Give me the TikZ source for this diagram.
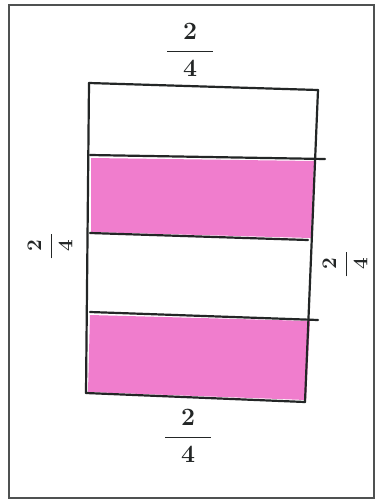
\documentclass[tikz,border=0pt]{standalone}
\usepackage{amsmath}
\definecolor{crayon}{RGB}{240,125,205}
\definecolor{ink}{RGB}{35,38,38}
\begin{document}
\begin{tikzpicture}[x=1pt,y=-1pt,
  pen/.style={draw=ink,line width=2.2pt,line cap=round,line join=round},
  frac/.style={text=ink,font=\fontsize{25}{28}\selectfont\boldmath},
  sidefrac/.style={frac,rotate=90,inner sep=0pt,font=\fontsize{22}{25}\selectfont\boldmath}]
\useasboundingbox (0,0) rectangle (380,504);
\fill[white] (0,0) rectangle (380,504);
% outer frame
\draw[draw=ink!80,line width=1.3pt] (9,5) rectangle (374,498);
% corners of lines
\coordinate (a1) at (89,83);  \coordinate (b1) at (318,90);
\coordinate (a2) at (90,155); \coordinate (b2) at (325,159);
\coordinate (a3) at (90,233); \coordinate (b3) at (308,240);
\coordinate (a4) at (90,312); \coordinate (b4) at (318,320);
\coordinate (a5) at (86,393); \coordinate (b5) at (305,402);
% pink bands
\fill[crayon] (91,158) -- (314,161) -- (311,238) -- (91,232) -- cycle;
\fill[crayon] (90,315) -- (310,321) -- (306,400) -- (88,392) -- cycle;
% lines
\draw[pen] (a1) -- (b1);
\draw[pen] (a2) -- (b2);
\draw[pen] (a3) -- (b3);
\draw[pen] (a4) -- (b4);
\draw[pen] (a5) -- (b5);
\draw[pen] (a1) -- (a5);
\draw[pen] (b1) -- (b5);
% labels
\node[frac] (top) at (190,50) {$\dfrac{\;\;2\;\;}{4}$};
\node[frac] (bot) at (188,436) {$\dfrac{\;\;2\;\;}{4}$};
\node[sidefrac] (lft) at (50,246) {$\dfrac{\;2\;}{4}$};
\node[sidefrac] (rgt) at (345,264) {$\dfrac{\;2\;}{4}$};
\end{tikzpicture}
\end{document}
